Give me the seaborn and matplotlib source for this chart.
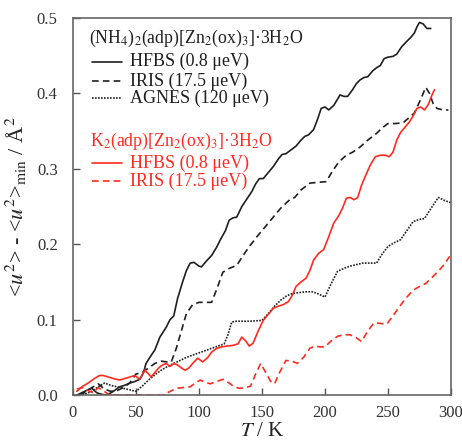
import numpy as np
import pandas as pd
import matplotlib.pyplot as plt
import seaborn as sns

# T / K and <u2> - <u2>min
nh4_hfbs_T = [3, 8, 13, 15, 19, 23, 27, 32, 37, 41, 45, 49, 53, 56, 58, 61, 65, 69, 74, 77, 80, 83,
              87, 90, 93, 96, 100, 102, 106, 110, 114, 117, 121, 124, 127, 130, 134, 138, 142, 145,
              148, 151, 155, 159, 163, 166, 169, 173, 177, 181, 184, 187, 191, 194, 197, 200, 203,
              207, 212, 215, 218, 222, 225, 228, 231, 234, 238, 241, 244, 247, 250, 254, 257, 261,
              265, 268, 271, 273, 275, 278, 281, 284]
nh4_hfbs_u = [0.000, 0.004, 0.008, 0.009, 0.003, 0.001, 0.000, 0.005, 0.011, 0.013, 0.016, 0.018,
              0.021, 0.030, 0.042, 0.050, 0.060, 0.077, 0.090, 0.100, 0.105, 0.128, 0.150, 0.165,
              0.175, 0.176, 0.171, 0.170, 0.178, 0.185, 0.196, 0.206, 0.218, 0.232, 0.235, 0.236,
              0.250, 0.260, 0.270, 0.280, 0.287, 0.287, 0.295, 0.303, 0.313, 0.319, 0.320, 0.325,
              0.330, 0.338, 0.343, 0.345, 0.352, 0.365, 0.380, 0.382, 0.378, 0.384, 0.398, 0.396,
              0.396, 0.405, 0.413, 0.418, 0.421, 0.422, 0.430, 0.434, 0.437, 0.446, 0.448, 0.449,
              0.452, 0.462, 0.469, 0.474, 0.480, 0.488, 0.494, 0.492, 0.486, 0.486]

nh4_iris_T = [5, 10, 15, 20, 25, 30, 35, 40, 45, 50, 55, 60, 65, 70, 75, 78, 82, 86, 90, 95, 100,
              105, 110, 114, 119, 124, 130, 135, 140, 146, 152, 159, 165, 172, 176, 181, 188, 194,
              201, 206, 211, 217, 222, 228, 234, 241, 246, 250, 256, 262, 267, 271, 276, 280, 283,
              286, 289, 294, 298]
nh4_iris_u = [0.000, 0.004, 0.010, 0.015, 0.008, 0.005, 0.006, 0.010, 0.016, 0.028, 0.030, 0.036,
              0.042, 0.045, 0.044, 0.044, 0.062, 0.085, 0.108, 0.120, 0.123, 0.123, 0.123, 0.140,
              0.163, 0.168, 0.172, 0.185, 0.197, 0.210, 0.222, 0.236, 0.248, 0.259, 0.262, 0.272,
              0.281, 0.282, 0.283, 0.297, 0.309, 0.318, 0.322, 0.329, 0.338, 0.347, 0.355, 0.360,
              0.360, 0.361, 0.368, 0.374, 0.392, 0.408, 0.400, 0.386, 0.380, 0.378, 0.378]

nh4_agnes_T = [5, 10, 15, 20, 25, 30, 35, 40, 45, 50, 55, 60, 65, 70, 75, 80, 85, 90, 95, 100, 105,
               110, 115, 120, 123, 126, 130, 140, 150, 155, 160, 165, 170, 175, 180, 185, 190, 195,
               200, 205, 210, 215, 220, 225, 230, 236, 241, 245, 250, 255, 260, 265, 270, 275, 279,
               284, 290, 295, 300]
nh4_agnes_u = [0.000, 0.002, 0.005, 0.011, 0.016, 0.013, 0.011, 0.009, 0.007, 0.005, 0.012, 0.020,
               0.027, 0.033, 0.038, 0.042, 0.046, 0.050, 0.053, 0.056, 0.059, 0.062, 0.065, 0.068,
               0.080, 0.097, 0.098, 0.098, 0.099, 0.108, 0.118, 0.126, 0.132, 0.135, 0.136, 0.137,
               0.137, 0.134, 0.130, 0.148, 0.164, 0.168, 0.171, 0.173, 0.175, 0.175, 0.175, 0.186,
               0.197, 0.202, 0.206, 0.218, 0.230, 0.233, 0.234, 0.247, 0.262, 0.258, 0.255]

k_hfbs_T = [3, 7, 12, 17, 21, 24, 28, 32, 37, 41, 45, 49, 53, 57, 60, 62, 65, 68, 71, 74, 77, 80,
            83, 86, 89, 92, 95, 99, 103, 107, 110, 114, 118, 122, 127, 131, 134, 137, 140, 143, 147,
            151, 155, 159, 163, 167, 171, 174, 177, 181, 185, 188, 191, 195, 199, 203, 207, 211,
            214, 217, 220, 223, 226, 229, 232, 236, 240, 244, 248, 251, 254, 257, 260, 264, 267,
            270, 273, 276, 279, 282, 285, 287]
k_hfbs_u = [0.005, 0.011, 0.016, 0.022, 0.026, 0.026, 0.024, 0.022, 0.020, 0.022, 0.024, 0.026,
            0.021, 0.033, 0.028, 0.024, 0.030, 0.036, 0.040, 0.042, 0.038, 0.042, 0.040, 0.036,
            0.033, 0.036, 0.042, 0.049, 0.044, 0.050, 0.057, 0.062, 0.064, 0.065, 0.066, 0.068,
            0.077, 0.072, 0.065, 0.069, 0.085, 0.099, 0.107, 0.115, 0.118, 0.120, 0.124, 0.132,
            0.144, 0.150, 0.155, 0.165, 0.179, 0.188, 0.193, 0.210, 0.228, 0.238, 0.248, 0.261,
            0.262, 0.259, 0.262, 0.278, 0.290, 0.305, 0.316, 0.318, 0.318, 0.316, 0.322, 0.338,
            0.348, 0.356, 0.362, 0.370, 0.380, 0.382, 0.378, 0.385, 0.398, 0.405]

k_iris_T = [3, 8, 12, 16, 20, 24, 29, 35, 40, 45, 50, 55, 60, 65, 71, 76, 82, 87, 93, 97, 101, 105,
            109, 114, 119, 124, 128, 132, 137, 141, 145, 149, 153, 157, 160, 164, 169, 174, 178,
            183, 188, 192, 196, 200, 205, 210, 215, 220, 225, 229, 234, 239, 244, 249, 254, 259,
            264, 270, 275, 280, 285, 291, 295, 299]
k_iris_u = [0.008, 0.010, 0.006, 0.003, 0.010, 0.006, 0.000, 0.000, 0.000, 0.000, 0.000, 0.000,
            0.000, 0.000, 0.000, 0.004, 0.009, 0.010, 0.011, 0.016, 0.020, 0.017, 0.015, 0.018,
            0.021, 0.016, 0.011, 0.009, 0.010, 0.012, 0.028, 0.042, 0.030, 0.018, 0.015, 0.030,
            0.046, 0.045, 0.042, 0.050, 0.062, 0.065, 0.064, 0.064, 0.072, 0.078, 0.080, 0.080,
            0.076, 0.071, 0.085, 0.096, 0.095, 0.094, 0.105, 0.117, 0.128, 0.139, 0.144, 0.148,
            0.156, 0.166, 0.174, 0.184]

series = [
    ("nh4_hfbs", nh4_hfbs_T, nh4_hfbs_u),
    ("nh4_iris", nh4_iris_T, nh4_iris_u),
    ("nh4_agnes", nh4_agnes_T, nh4_agnes_u),
    ("k_hfbs", k_hfbs_T, k_hfbs_u),
    ("k_iris", k_iris_T, k_iris_u),
]
df = pd.concat([pd.DataFrame({"T": t, "u2": u, "series": name}) for name, t, u in series],
               ignore_index=True)

BLACK = "#1f1f1f"
RED = "#ff2a1f"
colors = {"nh4_hfbs": BLACK, "nh4_iris": BLACK, "nh4_agnes": BLACK,
          "k_hfbs": RED, "k_iris": RED}
dashes = {"nh4_hfbs": "", "nh4_iris": (4, 2.5), "nh4_agnes": (1, 0.8),
          "k_hfbs": "", "k_iris": (4, 2.5)}

sns.set_style("ticks")
plt.rcParams['font.family'] = ['Liberation Serif', 'DejaVu Serif']
plt.rcParams['mathtext.fontset'] = 'stix'

fig = plt.figure(figsize=(4.62, 4.48), dpi=100)
ax = fig.add_axes([0.158, 0.118, 0.818, 0.842])

sns.lineplot(data=df, x="T", y="u2", hue="series", style="series", palette=colors,
             dashes=dashes, sort=False, estimator=None, linewidth=1.2, legend=False, ax=ax)

ax.set_xlim(0, 300)
ax.set_ylim(0, 0.5)
ax.set_xticks(np.arange(0, 301, 50))
ax.set_yticks(np.arange(0, 0.51, 0.1))
ax.set_yticklabels([f"{v:.1f}" for v in np.arange(0, 0.51, 0.1)])
ax.tick_params(direction="in", length=5, width=1, colors="#555555", labelcolor="#333333",
               labelsize=12)
ax.tick_params(axis="y", pad=11)
ax.tick_params(axis="x", pad=7)
for sp in ax.spines.values():
    sp.set_color("#666666")
    sp.set_linewidth(1.2)

ax.set_xlabel("$T$ / K", fontsize=15, color="#222222", labelpad=1)
ax.set_ylabel("<$u^2$> - <$u^2$>$_{\\mathrm{min}}$ / Å$^2$", fontsize=16, color="#222222",
              labelpad=6)

# legend drawn by hand
tr = ax.transAxes
FS = 13
ax.text(0.042, 0.945, "(NH$_4$)$_2$(adp)[Zn$_2$(ox)$_3$]·3H$_2$O", transform=tr,
        fontsize=12.8, color=BLACK, va="center")
rows = [("HFBS (0.8 μeV)", "", 0.884, BLACK), ("IRIS (17.5 μeV)", (4, 2.5), 0.833, BLACK),
        ("AGNES (120 μeV)", (1, 0.8), 0.787, BLACK)]
ax.text(0.045, 0.672, "K$_2$(adp)[Zn$_2$(ox)$_3$]·3H$_2$O", transform=tr,
        fontsize=12.8, color=RED, va="center")
rows += [("HFBS (0.8 μeV)", "", 0.615, RED), ("IRIS (17.5 μeV)", (4, 2.5), 0.567, RED)]
for label, ds, y, c in rows:
    line, = ax.plot([0.05, 0.129], [y, y], transform=tr, color=c, linewidth=1.2)
    if ds:
        line.set_dashes(ds)
    ax.text(0.151, y, label, transform=tr, fontsize=FS, color=c, va="center")

fig.savefig("out.png", dpi=100)
